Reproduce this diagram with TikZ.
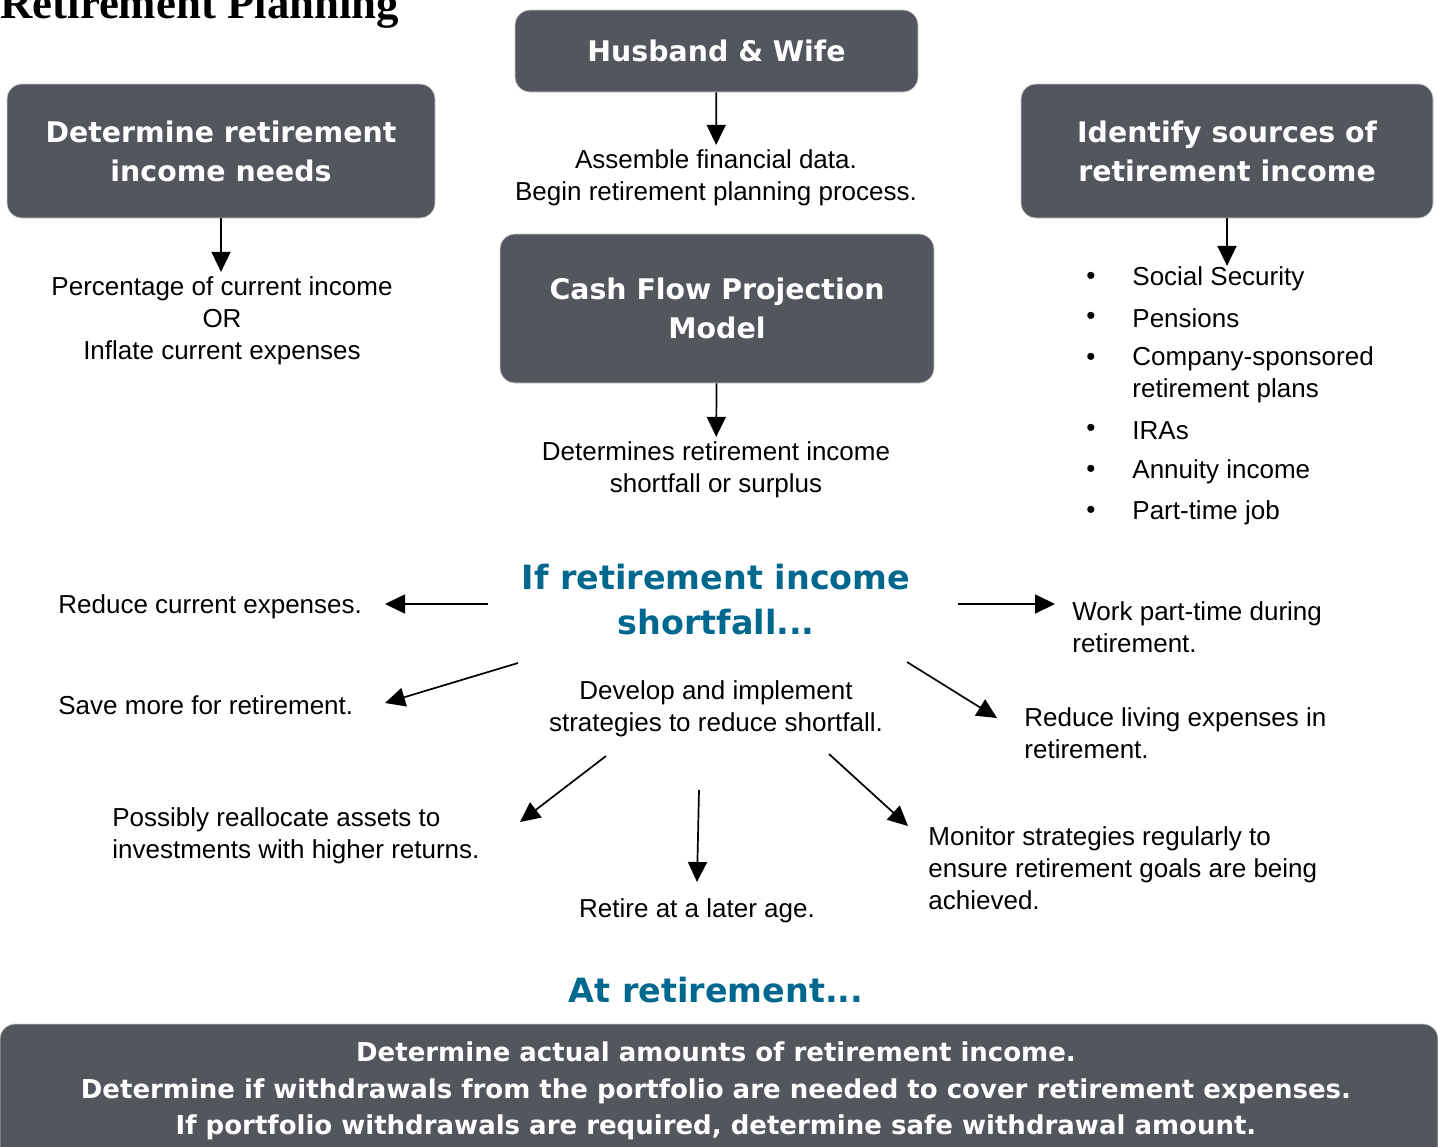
\documentclass[tikz,border=0pt]{standalone}
\usepackage{fontspec}
\setmainfont{Liberation Sans}
\newfontfamily\headfont{DejaVu Sans}
\newfontfamily\titlefont{Liberation Serif}
\usetikzlibrary{arrows.meta}
\definecolor{boxgray}{RGB}{83,86,93}
\definecolor{headblue}{RGB}{0,104,143}

\begin{document}
\begin{tikzpicture}[x=0.5pt,y=-0.5pt,
  box/.style={fill=boxgray,draw=black!20,line width=0.4pt,rounded corners=7.5pt,text=white,align=center,
    font=\headfont\bfseries\fontsize{14.2pt}{19.5pt}\selectfont},
  txt/.style={align=center,inner sep=2pt,yshift=-1.2pt,font=\fontsize{13pt}{16pt}\selectfont},
  head/.style={align=center,text=headblue,font=\headfont\bfseries\fontsize{16.7pt}{22.5pt}\selectfont},
  arr/.style={-{Triangle[length=10pt,width=9.5pt]},line width=0.85pt}]
  \useasboundingbox (0,0) rectangle (1438,1146);

  \node (title)[anchor=base west,inner sep=0pt,font=\titlefont\bfseries\fontsize{22.4pt}{26pt}\selectfont] at (0,18) {Retirement Planning};

  % top row
  \node (hw)[box,minimum width=201.5pt,minimum height=41pt] at (716.5,51) {Husband \& Wife};
  \node (need)[box,minimum width=214pt,minimum height=67pt] at (221,151) {Determine retirement\\income needs};
  \node (src)[box,minimum width=206pt,minimum height=67pt] at (1227,151) {Identify sources of\\retirement income};
  \node (cfm)[box,minimum width=217pt,minimum height=74.5pt] at (717,308.5) {Cash Flow Projection\\Model};

  \node (asm)[txt] at (716,175) {Assemble financial data.\\Begin retirement planning process.};
  \node (pct)[txt] at (222,318) {Percentage of current income\\OR\\Inflate current expenses};
  \node (det)[txt] at (716,467) {Determines retirement income\\shortfall or surplus};

  \foreach \y/\by/\lbl [count=\i] in {276/276/Social Security, 316/316/Pensions,
      372.5/357/{Company-sponsored\\retirement plans}, 428/428/IRAs, 469/469/Annuity income,
      510/510/Part-time job} {
    \node (d\i)[txt] at (1091,\by) {\textbullet};
    \node (b\i)[txt,anchor=west,align=left,inner sep=0pt] at (1132,\y) {\lbl};
  }

  \draw[arr] (hw) -- (asm);
  \draw[arr] (need.south) -- (need.south |- pct.north);
  \draw[arr] (src.south) -- (src.south |- b1.north);
  \draw[arr] (cfm) -- (det);

  % shortfall strategies
  \node (short)[head] at (716,600) {If retirement income\\shortfall...};
  \node (dev)[txt] at (716,706) {Develop and implement\\strategies to reduce shortfall.};

  \node (r1)[txt,anchor=west] at (54,604) {Reduce current expenses.};
  \node (r2)[txt,anchor=west] at (54,703) {Save more for retirement.};
  \node (r3)[txt,anchor=west,align=left] at (1068,625) {Work part-time during\\retirement.};
  \node (r4)[txt,anchor=west,align=left] at (1020,731) {Reduce living expenses in\\retirement.};
  \node (r5)[txt,anchor=west,align=left] at (108,833) {Possibly reallocate assets to\\investments with higher returns.};
  \node (r6)[txt] at (697,908) {Retire at a later age.};
  \node (r7)[txt,anchor=west,align=left] at (924,866) {Monitor strategies regularly to\\ensure retirement goals are being\\achieved.};

  \coordinate (r1-s) at (488,604); \coordinate (r1-e) at (385,604);
  \coordinate (r2-s) at (518,663); \coordinate (r2-e) at (385,703);
  \coordinate (r3-s) at (958,604); \coordinate (r3-e) at (1055,604);
  \coordinate (r4-s) at (907,662); \coordinate (r4-e) at (997,718);
  \coordinate (r5-s) at (606,756); \coordinate (r5-e) at (520,822);
  \coordinate (r6-s) at (699,790); \coordinate (r6-e) at (697,882);
  \coordinate (r7-s) at (829,754); \coordinate (r7-e) at (908,826);
  \foreach \n in {r1,r2,r3,r4,r5,r6,r7}
    \draw[arr] (\n-s) -- (\n-e);

  % at retirement
  \node (atret)[head] at (716,990) {At retirement...};
  \path[fill=boxgray,draw=black!20,line width=0.4pt,rounded corners=7.5pt] (0,1024) rectangle (1438,1200);
  \node (fin)[align=center,text=white,font=\headfont\bfseries\fontsize{13pt}{18.25pt}\selectfont] at (716,1091)
    {Determine actual amounts of retirement income.\\
     Determine if withdrawals from the portfolio are needed to cover retirement expenses.\\
     If portfolio withdrawals are required, determine safe withdrawal amount.};
\end{tikzpicture}
\end{document}
